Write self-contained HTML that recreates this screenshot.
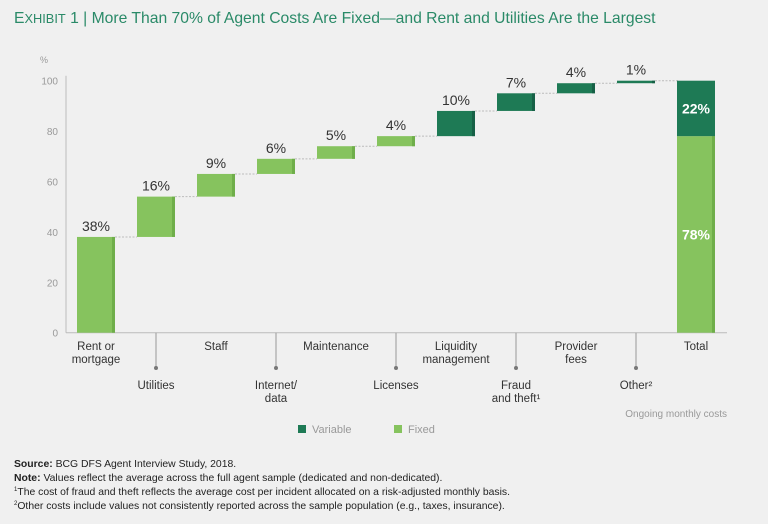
<!DOCTYPE html>
<html><head><meta charset="utf-8"><style>
html,body{margin:0;padding:0;background:#f0f0f0;}
body{width:768px;height:524px;position:relative;overflow:hidden;font-family:"Liberation Sans",sans-serif;}
.t{position:absolute;white-space:nowrap;}
.sp{font-size:6px;position:relative;top:-4px;line-height:0;}
</style></head><body>
<div class="t" style="left:14px;top:10px;font-size:15.7px;color:#2a8a68;">E<span style="font-size:12.8px">XHIBIT</span> 1 | More Than 70% of Agent Costs Are Fixed—and Rent and Utilities Are the Largest</div>
<svg id="chart" width="768" height="524" style="position:absolute;left:0;top:0" font-family="Liberation Sans, sans-serif"></svg>
<div class="t" style="left:14px;top:458px;font-size:10.4px;line-height:14px;color:#222;">
<div><b>Source:</b> BCG DFS Agent Interview Study, 2018.</div>
<div><b>Note:</b> Values reflect the average across the full agent sample (dedicated and non-dedicated).</div>
<div><span class="sp">1</span>The cost of fraud and theft reflects the average cost per incident allocated on a risk-adjusted monthly basis.</div>
<div><span class="sp">2</span>Other costs include values not consistently reported across the sample population (e.g., taxes, insurance).</div>
</div>
<script>
const categories=["Rent or|mortgage","Utilities","Staff","Internet/|data","Maintenance","Licenses","Liquidity|management","Fraud|and theft¹","Provider|fees","Other²"];
const values=[38,16,9,6,5,4,10,7,4,1];
const types=["fixed","fixed","fixed","fixed","fixed","fixed","variable","variable","variable","variable"];
const totalFixed=78;
const totalVariable=22;
const yTicks=[0,20,40,60,80,100];
const NS="http://www.w3.org/2000/svg";
const svg=document.getElementById('chart');
const y0=332.7,y100=80.7;
const y=v=>y0+(y100-y0)*v/100;
const xc=i=>96+60*i;
const BW=38;
const LIGHT="#86c35e",LIGHTD="#6fae4a",DARK="#1e7a55",DARKD="#166046";
function el(tag,attrs,text){const e=document.createElementNS(NS,tag);for(const k in attrs)e.setAttribute(k,attrs[k]);if(text!==undefined)e.textContent=text;svg.appendChild(e);return e;}
let a=el('line',{x1:66,x2:66,y1:y100-5,y2:y0,stroke:'#bbb','stroke-width':1});


a=el('line',{x1:66,x2:727,y1:y0,y2:y0,stroke:'#bbb','stroke-width':1});


let u=el('text',{x:40,y:63,'font-size':9,fill:'#999'},'%');


yTicks.forEach(t=>{const e=el('text',{x:58,y:y(t)+4,'font-size':10,fill:'#999','text-anchor':'end'},String(t));

});
let cum=0;
values.forEach((v,i)=>{
 const top=y(cum+v),bot=y(cum);
 const c=types[i]==='fixed'?LIGHT:DARK,cd=types[i]==='fixed'?LIGHTD:DARKD;
 const r=el('rect',{x:xc(i)-BW/2,y:top,width:BW,height:bot-top,fill:c});
 
 
 el('rect',{x:xc(i)+BW/2-3,y:top,width:3,height:bot-top,fill:cd});
 const nx=i<values.length-1?xc(i+1)-BW/2:678;
 const d=el('line',{x1:xc(i)+BW/2,x2:nx,y1:top,y2:top,stroke:'#bbb','stroke-width':1,'stroke-dasharray':'2,1.5'});
 
 
 const lb=el('text',{x:xc(i),y:top-6,'font-size':14,fill:'#333','text-anchor':'middle'},v+'%');
 
 
 const lines=categories[i].split('|');
 const low=i%2===1;
 if(low){el('line',{x1:xc(i),x2:xc(i),y1:y0,y2:368,stroke:'#999','stroke-width':1});el('circle',{cx:xc(i),cy:368,r:2,fill:'#777'});}
 lines.forEach((s,k)=>{const t=el('text',{x:xc(i),y:(low?389:350)+k*13,'font-size':11.5,fill:'#333','text-anchor':'middle'},s);
 
 });
 cum+=v;
});
const tx=696;
let tf=el('rect',{x:tx-BW/2,y:y(totalFixed),width:BW,height:y0-y(totalFixed),fill:LIGHT});


el('rect',{x:tx+BW/2-3,y:y(totalFixed),width:3,height:y0-y(totalFixed),fill:LIGHTD});
let tv=el('rect',{x:tx-BW/2,y:y(totalFixed+totalVariable),width:BW,height:y(totalFixed)-y(totalFixed+totalVariable),fill:DARK});


el('text',{x:tx,y:(y(totalFixed)+y(totalFixed+totalVariable))/2+5,'font-size':14,'font-weight':'bold',fill:'#fff','text-anchor':'middle'},totalVariable+'%');
el('text',{x:tx,y:(y(0)+y(totalFixed))/2+5,'font-size':14,'font-weight':'bold',fill:'#fff','text-anchor':'middle'},totalFixed+'%');
let tl=el('text',{x:tx,y:350,'font-size':11.5,fill:'#333','text-anchor':'middle'},'Total');


let oc=el('text',{x:727,y:417,'font-size':10,fill:'#999','text-anchor':'end'},'Ongoing monthly costs');


let l1=el('rect',{x:298,y:425,width:8,height:8,fill:DARK});


let l2=el('text',{x:312,y:433,'font-size':11,fill:'#999'},'Variable');


let l3=el('rect',{x:394,y:425,width:8,height:8,fill:LIGHT});


let l4=el('text',{x:408,y:433,'font-size':11,fill:'#999'},'Fixed');


</script>
</body></html>
